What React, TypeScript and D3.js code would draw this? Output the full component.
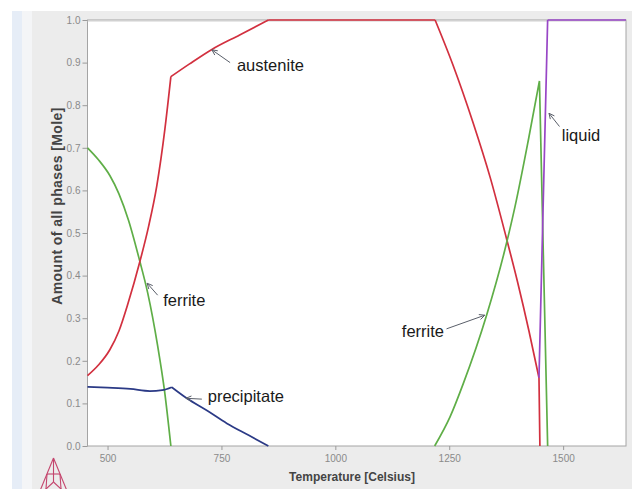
import * as d3 from "d3";
import React, { useEffect, useRef } from "react";

// phase amounts (temperature in Celsius, amount in mole)
const ferriteLowT = [456, 480, 505, 525, 546, 570, 588, 610, 625, 639];
const ferriteLowV = [0.70, 0.672, 0.635, 0.592, 0.53, 0.437, 0.36, 0.235, 0.13, 0.0];

const precipitateT = [456, 500, 550, 593, 620, 641, 674, 720, 762, 810, 853];
const precipitateV = [0.139, 0.137, 0.134, 0.129, 0.131, 0.138, 0.112, 0.082, 0.053, 0.025, 0.0];

const austeniteT = [456, 480, 505, 525, 545, 571, 590, 608, 626, 639, 680, 729, 790, 853,
  1219, 1258, 1302, 1340, 1375, 1400, 1425, 1447, 1449];
const austeniteV = [0.165, 0.19, 0.226, 0.27, 0.335, 0.433, 0.515, 0.61, 0.745, 0.867, 0.897, 0.931, 0.965, 1.0,
  1.0, 0.895, 0.76, 0.63, 0.49, 0.385, 0.27, 0.16, 0.0];

const ferriteHighT = [1218, 1252, 1281, 1332, 1372, 1394, 1424, 1448, 1466];
const ferriteHighV = [0.0, 0.069, 0.147, 0.307, 0.46, 0.56, 0.72, 0.857, 0.0];

const liquidT = [1447, 1466, 1638];
const liquidV = [0.16, 1.0, 1.0];

// temperatures where a curve has a sharp corner
const ferriteLowKinks: number[] = [];
const precipitateKinks = [641];
const austeniteKinks = [639, 853, 1219, 1447];
const ferriteHighKinks = [1448];
const liquidKinks = [1466];

const xTicks = [500, 750, 1000, 1250, 1500];
const yTicks = [0, 0.1, 0.2, 0.3, 0.4, 0.5, 0.6, 0.7, 0.8, 0.9, 1.0];

// labels: text anchor + arrow tail/head, in data units
const labels = ["austenite", "liquid", "ferrite", "precipitate", "ferrite"];
const labelAt: [number, number][] = [[784, 0.88], [1497, 0.716], [622, 0.329], [720, 0.103], [1146, 0.256]];
const arrowFrom: [number, number][] = [[769, 0.9], [1492, 0.75], [610, 0.354], [707, 0.11], [1244, 0.275]];
const arrowTo: [number, number][] = [[729, 0.93], [1469, 0.781], [587, 0.382], [672, 0.112], [1328, 0.307]];

const zip = (a: number[], b: number[]) => a.map((v, i) => [v, b[i]] as [number, number]);

// cut a polyline into pieces at its corners, so each piece can be smoothed alone
function pieces(pts: [number, number][], kinks: number[]) {
  const out: [number, number][][] = [];
  let cur: [number, number][] = [];
  pts.forEach(p => {
    cur.push(p);
    if (kinks.includes(p[0])) { out.push(cur); cur = [p]; }
  });
  if (cur.length > 1) out.push(cur);
  return out;
}

export default function App() {
  const svgRef = useRef<SVGSVGElement | null>(null);

  useEffect(() => {
    const svg = d3.select(svgRef.current);
    svg.selectAll("*").remove();
    const W = 638, H = 489;
    const left = 87.5, right = 626, top = 20, bottom = 446;

    const x = d3.scaleLinear().domain([456, 1638]).range([left, right]);
    const y = d3.scaleLinear().domain([0, 1]).range([bottom, top]);

    // page backdrop
    svg.append("rect").attr("width", W).attr("height", H).attr("fill", "#fff");
    svg.append("rect").attr("x", 12).attr("y", 11).attr("width", 10).attr("height", H).attr("fill", "#e6edf7");
    svg.append("rect").attr("x", 22).attr("y", 11).attr("width", 10).attr("height", H).attr("fill", "#f4f5f7");
    svg.append("rect").attr("x", 32).attr("y", 11).attr("width", 600).attr("height", H).attr("fill", "#ececec");

    svg.append("rect")
      .attr("x", left).attr("y", top)
      .attr("width", right - left).attr("height", bottom - top)
      .attr("fill", "#fff").attr("stroke", "#a4a4a4").attr("stroke-width", 1);
    svg.append("line").attr("x1", left).attr("x2", right).attr("y1", top + 1).attr("y2", top + 1)
      .attr("stroke", "#d0d0d0");

    // axes
    const font = "Arial, 'Liberation Sans', sans-serif";
    const ya = svg.append("g").attr("transform", `translate(${left},0)`)
      .call(d3.axisLeft(y).tickValues(yTicks).tickFormat(d3.format(".1f")).tickSize(5).tickPadding(2));
    const xa = svg.append("g").attr("transform", `translate(0,${bottom})`)
      .call(d3.axisBottom(x).tickValues(xTicks).tickFormat(d3.format("d")).tickSize(4).tickPadding(5));
    [ya, xa].forEach(a => {
      a.select(".domain").remove();
      a.selectAll(".tick line").attr("stroke", "#9a9a9a");
      a.selectAll("text").attr("fill", "#8a8a8a").attr("font-size", 10).attr("font-family", font);
    });

    svg.append("text")
      .attr("x", 352).attr("y", 481)
      .attr("text-anchor", "middle")
      .attr("font-family", font).attr("font-size", 12).attr("font-weight", "bold")
      .attr("fill", "#444")
      .text("Temperature [Celsius]");
    svg.append("text")
      .attr("transform", `translate(62,206) rotate(-90)`)
      .attr("text-anchor", "middle")
      .attr("font-family", font).attr("font-size", 14).attr("font-weight", "bold")
      .attr("letter-spacing", 0.4)
      .attr("fill", "#444")
      .text("Amount of all phases [Mole]");

    // curves
    const line = d3.line<[number, number]>().x(d => x(d[0])).y(d => y(d[1])).curve(d3.curveMonotoneX);
    const series: [[number, number][], number[], string][] = [
      [zip(ferriteLowT, ferriteLowV), ferriteLowKinks, "#5fae47"],
      [zip(precipitateT, precipitateV), precipitateKinks, "#2b3a86"],
      [zip(austeniteT, austeniteV), austeniteKinks, "#d2303f"],
      [zip(ferriteHighT, ferriteHighV), ferriteHighKinks, "#5fae47"],
      [zip(liquidT, liquidV), liquidKinks, "#9846c6"],
    ];
    series.forEach(([pts, kinks, color]) => {
      svg.append("path")
        .attr("d", pieces(pts, kinks).map(p => line(p)).join(""))
        .attr("fill", "none")
        .attr("stroke", color)
        .attr("stroke-width", 1.7)
        .attr("stroke-linejoin", "round");
    });

    // annotations
    const ann = svg.append("g");
    labels.forEach((t, i) => {
      const [x0, y0] = [x(arrowFrom[i][0]), y(arrowFrom[i][1])];
      const [x1, y1] = [x(arrowTo[i][0]), y(arrowTo[i][1])];
      ann.append("line").attr("x1", x0).attr("y1", y0).attr("x2", x1).attr("y2", y1)
        .attr("stroke", "#5a5f6a").attr("stroke-width", 1);
      const ang = Math.atan2(y0 - y1, x0 - x1);
      [0.45, -0.45].forEach(da => {
        ann.append("line")
          .attr("x1", x1).attr("y1", y1)
          .attr("x2", x1 + 6 * Math.cos(ang + da)).attr("y2", y1 + 6 * Math.sin(ang + da))
          .attr("stroke", "#5a5f6a").attr("stroke-width", 1);
      });
      ann.append("text")
        .attr("x", x(labelAt[i][0])).attr("y", y(labelAt[i][1]))
        .attr("font-family", font).attr("font-size", 16.5)
        .attr("fill", "#1a1a1a")
        .text(t);
    });

    // logo
    const logo = svg.append("g").attr("stroke", "#c4456d").attr("fill", "none").attr("stroke-width", 1.1);
    const A: [number, number] = [53.5, 458], B: [number, number] = [37.5, 497], C: [number, number] = [69.5, 497];
    const O: [number, number] = [53.5, 482];
    const seg = (p: [number, number], q: [number, number]) =>
      logo.append("line").attr("x1", p[0]).attr("y1", p[1]).attr("x2", q[0]).attr("y2", q[1]);
    seg(A, B); seg(B, C); seg(C, A); seg(A, O); seg(B, O); seg(C, O);
    seg([47, 474], [60, 474]); seg([47, 474], [46, 489]); seg([60, 474], [61, 489]);
  }, []);

  return (
    <svg ref={svgRef} width={638} height={489}
      style={{ position: "absolute", left: 0, top: 0, display: "block" }} />
  );
}
